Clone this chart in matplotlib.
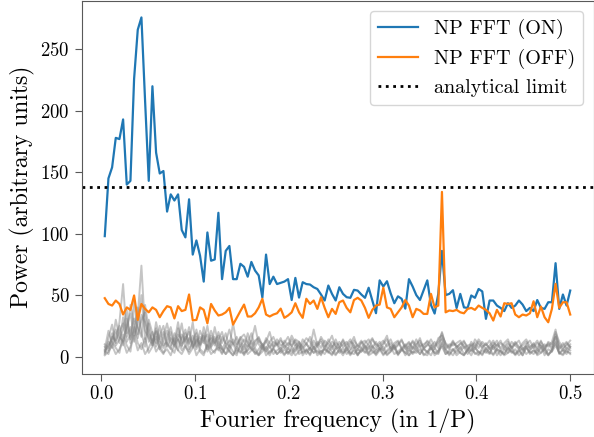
import numpy as np
import matplotlib
matplotlib.use("Agg")
import matplotlib.pyplot as plt

plt.rcParams["font.family"] = "serif"
plt.rcParams["font.serif"] = ["cmr10"]
plt.rcParams["mathtext.fontset"] = "cm"
plt.rcParams["axes.formatter.use_mathtext"] = True

# Fourier frequencies k/256, k = 1..128 (in 1/P)
n_freq = 128
freq = np.arange(1, n_freq + 1) / 256

power_on = [
    98, 145, 154, 178, 177, 193, 140, 143, 226, 266, 276, 208, 143, 220, 166, 149,
    151, 118, 132, 127, 132, 103, 97, 128, 83, 94.5, 82, 61, 101, 78, 79, 117,
    63, 86, 90, 63, 63, 75.5, 73, 65, 77, 70, 66, 48, 83, 59, 65, 59,
    60, 61, 63, 46, 64, 48, 60.5, 59, 58.6, 56.4, 55, 50.5, 45.6, 57.8, 51, 45.6,
    56.4, 51, 48.3, 47.8, 54.3, 53.7, 50.5, 47.8, 56, 45.6, 35.3, 62, 57, 61.3, 51.5, 43.4,
    49, 47, 39, 63, 57, 50, 46, 54, 62, 42, 35, 51, 86, 50, 51, 54,
    39.5, 51, 40, 39.6, 49.7, 47.8, 55, 53, 30.7, 45.6, 45.6, 41.5, 39.6, 37, 43.4, 39.6,
    41.5, 45.6, 42.3, 37, 39.6, 37, 46, 39.6, 38.8, 44.2, 44.2, 76, 38.8, 50.5, 41.5, 53.7,
]

power_off = [
    47.5, 42.8, 41.5, 45.6, 42.8, 34.2, 40, 38, 49.7, 29.8, 42.8, 38.8, 36, 40, 38, 32,
    37, 41, 40, 31, 41, 37, 38, 50.5, 29.5, 29.8, 40, 38, 27, 42.8, 37.5, 33.4,
    34.2, 36, 39.6, 26, 31.5, 37, 42.3, 32.6, 32.6, 35.2, 40, 47, 34.2, 32.6, 34.2, 35.2,
    39, 31.5, 33.4, 36, 43.4, 36, 31.5, 47, 42.8, 45.6, 38.8, 48.3, 39.6, 32, 38.8, 34.7,
    44.2, 45.6, 39.6, 36, 46, 47.8, 45.6, 39.6, 31.5, 38, 41.5, 42.3, 56, 40, 38.8, 32,
    36, 40, 46, 41.5, 32, 38.8, 37.5, 34.7, 34.7, 51, 40, 41.5, 134, 36, 37.5, 37,
    38, 36, 35.2, 38.8, 39.6, 38, 41.5, 39.6, 38, 35.2, 29.3, 38, 32.6, 43.4, 42.8, 43.4,
    34.2, 32, 34.2, 33.4, 35.2, 45, 32, 40.7, 32, 27.9, 38.8, 59.2, 39.6, 44.2, 44.2, 34.2,
]

analytical_limit = 138.4

# a few of the noise-only spectra (grey background)
noise_a = [
    3, 12, 7, 18, 25, 9, 31, 14, 22, 40, 19, 8, 27, 11, 16, 6,
    13, 21, 9, 15, 5, 18, 12, 24, 7, 14, 10, 19, 4, 11, 16, 8,
    6, 2, 9, 4, 1, 11, 3, 5, 8, 2, 6, 10, 1, 4, 7, 2,
    5, 9, 3, 6, 1, 4, 8, 2, 7, 3, 5, 1, 9, 4, 2, 6,
    8, 3, 5, 1, 7, 2, 4, 9, 3, 6, 1, 5, 8, 2, 4, 7,
    1, 6, 3, 8, 2, 5, 9, 1, 4, 7, 3, 2, 10, 5, 1, 6,
    3, 8, 2, 5, 1, 7, 4, 2, 6, 3, 9, 1, 5, 2, 7, 4,
    2, 6, 1, 8, 3, 5, 2, 7, 4, 1, 6, 11, 3, 5, 2, 8,
]
noise_b = [
    8, 5, 19, 11, 28, 59, 16, 24, 12, 33, 74, 21, 15, 9, 23, 13,
    7, 16, 24, 10, 14, 8, 19, 11, 28, 6, 13, 17, 9, 21, 12, 5,
    16, 11, 8, 27, 10, 14, 6, 19, 9, 13, 15, 7, 12, 20, 8, 11,
    6, 13, 9, 17, 11, 5, 14, 10, 7, 22, 9, 12, 6, 14, 8, 11,
    9, 13, 5, 10, 16, 7, 12, 9, 6, 14, 10, 8, 11, 17, 5, 9,
    12, 7, 10, 5, 13, 9, 15, 6, 10, 8, 12, 7, 20, 9, 6, 11,
    9, 6, 12, 8, 5, 14, 10, 7, 11, 6, 9, 13, 5, 8, 12, 7,
    10, 13, 6, 9, 7, 11, 5, 12, 8, 10, 6, 18, 9, 5, 11, 8,
]
noise_c = [
    2, 15, 26, 9, 14, 22, 38, 11, 45, 18, 29, 36, 12, 20, 8, 17,
    25, 10, 6, 19, 13, 27, 8, 15, 11, 22, 9, 14, 18, 7, 24, 10,
    3, 9, 5, 1, 8, 4, 2, 10, 6, 3, 1, 7, 4, 9, 2, 5,
    7, 2, 4, 1, 6, 10, 3, 5, 2, 8, 1, 4, 6, 3, 9, 2,
    5, 1, 7, 3, 2, 6, 4, 8, 1, 3, 5, 7, 2, 4, 6, 9,
    2, 5, 8, 1, 4, 3, 6, 2, 1, 7, 3, 5, 8, 2, 4, 1,
    6, 3, 1, 5, 9, 2, 4, 1, 7, 3, 2, 6, 4, 1, 3, 5,
    1, 4, 7, 2, 5, 8, 1, 3, 6, 2, 4, 9, 3, 1, 5, 2,
]
noise_d = [
    6, 21, 10, 30, 16, 12, 24, 35, 17, 26, 50, 14, 30, 19, 11, 25,
    9, 12, 20, 8, 23, 11, 16, 6, 13, 19, 7, 24, 12, 15, 9, 20,
    11, 19, 7, 14, 9, 16, 12, 8, 13, 25, 10, 6, 15, 11, 8, 14,
    9, 11, 16, 8, 13, 7, 10, 15, 12, 6, 10, 14, 8, 11, 17, 7,
    12, 8, 10, 14, 7, 9, 13, 6, 11, 15, 8, 12, 5, 10, 14, 7,
    10, 14, 6, 9, 12, 7, 11, 8, 13, 10, 6, 15, 17, 11, 8, 13,
    7, 11, 9, 5, 12, 8, 14, 10, 6, 9, 13, 7, 11, 9, 5, 12,
    9, 6, 11, 14, 8, 10, 7, 13, 5, 11, 8, 20, 12, 7, 9, 13,
]
noise_e = [
    4, 9, 14, 22, 11, 32, 19, 42, 26, 15, 34, 28, 18, 13, 21, 10,
    16, 27, 13, 9, 18, 14, 22, 10, 17, 8, 21, 13, 6, 17, 11, 14,
    20, 9, 13, 11, 7, 15, 18, 12, 6, 11, 16, 9, 13, 7, 12, 10,
    15, 7, 11, 9, 14, 12, 6, 10, 16, 8, 12, 7, 13, 10, 6, 14,
    7, 10, 12, 6, 13, 9, 7, 11, 14, 8, 6, 10, 13, 8, 11, 6,
    9, 13, 8, 11, 6, 10, 13, 7, 9, 14, 8, 11, 15, 6, 10, 9,
    11, 13, 7, 9, 10, 6, 12, 8, 10, 7, 11, 9, 13, 6, 10, 8,
    12, 8, 5, 10, 13, 7, 11, 9, 6, 12, 10, 16, 6, 9, 12, 7,
]
noise_f = [
    10, 7, 16, 13, 20, 27, 12, 18, 31, 24, 16, 42, 22, 9, 28, 14,
    20, 8, 15, 12, 28, 9, 14, 20, 8, 12, 16, 11, 25, 8, 13, 17,
    6, 12, 22, 10, 16, 8, 14, 11, 19, 8, 13, 10, 6, 12, 16, 9,
    13, 10, 6, 14, 9, 12, 8, 11, 5, 13, 8, 16, 11, 7, 12, 9,
    6, 14, 8, 12, 10, 5, 11, 13, 9, 7, 12, 6, 10, 14, 7, 11,
    13, 6, 9, 12, 7, 14, 8, 10, 12, 6, 9, 13, 19, 10, 7, 12,
    8, 10, 13, 6, 9, 11, 7, 12, 9, 13, 6, 10, 7, 11, 14, 6,
    11, 7, 9, 12, 6, 9, 13, 7, 10, 8, 12, 22, 7, 11, 6, 10,
]
noise_g = [
    1, 4, 9, 2, 6, 13, 3, 8, 17, 5, 11, 2, 7, 14, 4, 9,
    3, 6, 1, 10, 5, 2, 8, 4, 12, 1, 6, 3, 9, 2, 5, 7,
    2, 8, 4, 1, 6, 3, 10, 2, 5, 7, 1, 4, 8, 3, 6, 2,
    5, 1, 7, 3, 9, 2, 4, 6, 1, 8, 3, 5, 2, 7, 4, 1,
    6, 3, 8, 2, 5, 1, 7, 4, 2, 9, 3, 6, 1, 5, 8, 2,
    4, 7, 1, 5, 3, 8, 2, 6, 4, 1, 7, 3, 11, 2, 5, 6,
    1, 4, 8, 2, 6, 3, 1, 7, 4, 2, 9, 5, 1, 6, 3, 8,
    2, 5, 1, 7, 4, 2, 6, 3, 8, 1, 5, 12, 2, 6, 4, 3,
]
noise_h = [
    5, 2, 12, 7, 3, 18, 9, 4, 24, 11, 6, 15, 3, 8, 20, 6,
    2, 11, 7, 3, 14, 5, 9, 2, 7, 16, 4, 1, 10, 6, 3, 12,
    7, 2, 5, 11, 3, 8, 1, 6, 13, 4, 2, 9, 5, 1, 7, 10,
    3, 6, 2, 8, 4, 11, 1, 5, 7, 3, 9, 2, 6, 4, 1, 8,
    3, 7, 2, 5, 9, 1, 6, 3, 8, 4, 2, 7, 5, 1, 4, 9,
    2, 6, 3, 1, 8, 5, 2, 7, 3, 9, 1, 4, 14, 6, 2, 5,
    8, 3, 1, 6, 4, 9, 2, 5, 3, 7, 1, 6, 4, 2, 8, 3,
    6, 1, 4, 8, 2, 5, 3, 9, 1, 6, 4, 16, 3, 2, 7, 5,
]
noise_spectra = [noise_a, noise_b, noise_c, noise_d, noise_e, noise_f, noise_g, noise_h]

fig = plt.figure(figsize=(5.94, 4.37), dpi=100)
ax = fig.add_axes([81.5 / 594, 1 - 373.5 / 437, 512 / 594, 373 / 437])

for spec in noise_spectra:
    ax.plot(freq, spec, color="gray", alpha=0.45, lw=1.4)

ax.plot(freq, power_on, color="#1f77b4", lw=1.6, label="NP FFT (ON)")
ax.plot(freq, power_off, color="#ff7f0e", lw=1.6, label="NP FFT (OFF)")
ax.axhline(analytical_limit, color="black", ls=":", lw=2, label="analytical limit")

ax.set_xticks([0.0, 0.1, 0.2, 0.3, 0.4, 0.5])
ax.set_yticks([0, 50, 100, 150, 200, 250])
ax.set_xlim(-0.0209, 0.5248)
ax.set_ylim(-13.8, 289.8)

for sp in ax.spines.values():
    sp.set_color("0.35")
ax.tick_params(colors="0.35", labelcolor="black", labelsize=13.5, length=5)

ax.set_xlabel("Fourier frequency (in 1/P)", fontsize=17)
ax.set_ylabel("Power (arbitrary units)", fontsize=17)
ax.legend(loc="upper right", fontsize=14.5)

fig.savefig("out.png", dpi=100)
